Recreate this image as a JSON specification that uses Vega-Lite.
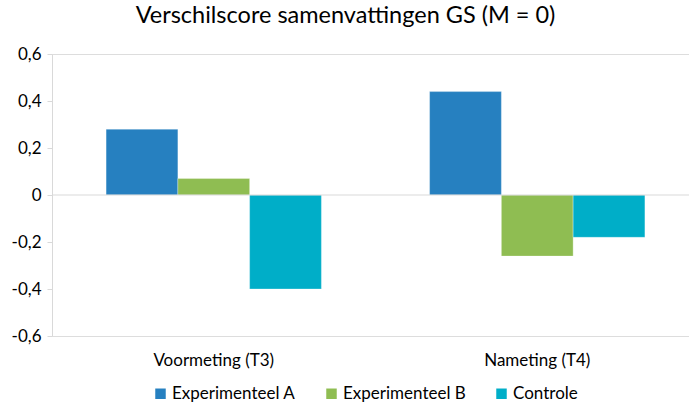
{
  "$schema": "https://vega.github.io/schema/vega-lite/v6.json",
  "width": 637,
  "height": 282,
  "autosize": {"type": "none"},
  "padding": {"left": 52, "top": 54, "right": 0, "bottom": 69},
  "background": "white",
  "title": {
    "text": "Verschilscore samenvattingen GS (M = 0)",
    "font": "Lato",
    "fontSize": 23.5,
    "fontWeight": "normal",
    "color": "#000000",
    "anchor": "middle",
    "dx": -25,
    "offset": 18
  },
  "data": {
    "values": [
      {"meting": "Voormeting (T3)", "groep": "Experimenteel A", "score": 0.28},
      {"meting": "Voormeting (T3)", "groep": "Experimenteel B", "score": 0.07},
      {"meting": "Voormeting (T3)", "groep": "Controle", "score": -0.40},
      {"meting": "Nameting (T4)", "groep": "Experimenteel A", "score": 0.44},
      {"meting": "Nameting (T4)", "groep": "Experimenteel B", "score": -0.26},
      {"meting": "Nameting (T4)", "groep": "Controle", "score": -0.18}
    ]
  },
  "layer": [
    {
      "mark": {"type": "bar", "stroke": "white", "strokeWidth": 0.6, "strokeOpacity": 0.5},
      "encoding": {
        "x": {
          "field": "meting",
          "type": "nominal",
          "sort": ["Voormeting (T3)", "Nameting (T4)"],
          "scale": {"range": [0, 647], "paddingInner": 0, "paddingOuter": 0},
          "axis": {
            "title": null,
            "domain": false,
            "ticks": false,
            "labelAngle": 0,
            "labelFont": "Lato",
            "labelFontSize": 17,
            "labelColor": "#000000",
            "labelPadding": 16
          }
        },
        "xOffset": {
          "field": "groep",
          "type": "nominal",
          "sort": ["Experimenteel A", "Experimenteel B", "Controle"],
          "scale": {"paddingInner": 0, "paddingOuter": 0.754}
        },
        "y": {
          "field": "score",
          "type": "quantitative",
          "scale": {"domain": [-0.6, 0.6], "nice": false, "zero": true},
          "axis": {
            "title": null,
            "values": [-0.6, -0.4, -0.2, 0, 0.2, 0.4, 0.6],
            "grid": false,
            "domainColor": "#D9D9D9",
            "tickColor": "#D9D9D9",
            "tickSize": 5,
            "labelFont": "Lato",
            "labelFontSize": 17,
            "labelColor": "#000000",
            "labelPadding": 6,
            "labelExpr": "replace(toString(round(datum.value*10)/10), '.', ',')"
          }
        },
        "color": {
          "field": "groep",
          "type": "nominal",
          "sort": ["Experimenteel A", "Experimenteel B", "Controle"],
          "scale": {
            "domain": ["Experimenteel A", "Experimenteel B", "Controle"],
            "range": ["#2680C0", "#8FBD52", "#00AEC8"]
          },
          "legend": {
            "title": null,
            "orient": "none",
            "direction": "horizontal",
            "legendX": 100,
            "legendY": 331,
            "padding": 0,
            "symbolType": "square",
            "symbolSize": 110,
            "symbolStrokeWidth": 0,
            "labelFont": "Lato",
            "labelFontSize": 17,
            "labelColor": "#000000",
            "labelOffset": 3,
            "columnPadding": 27
          }
        }
      }
    },
    {
      "data": {"values": [{"y": 0}]},
      "mark": {"type": "rule", "color": "#D9D9D9", "strokeWidth": 1.2},
      "encoding": {"y": {"field": "y", "type": "quantitative"}}
    }
  ]
}
